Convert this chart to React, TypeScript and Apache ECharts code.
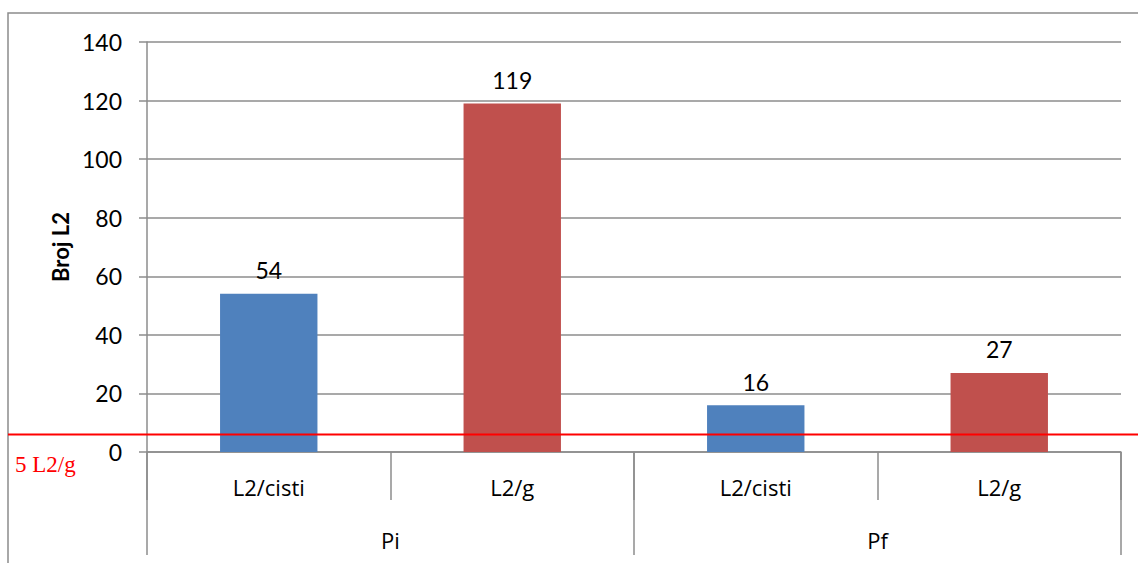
import React, { useEffect, useRef } from "react";
import * as echarts from "echarts";

const categories = ["L2/cisti", "L2/g", "L2/cisti", "L2/g"];
const groups = ["Pi", "Pf"];
const values = [54, 119, 16, 27];
const barColors = ["#4F81BD", "#C0504D", "#4F81BD", "#C0504D"];
const thresholdValue = 6;
const thresholdLabel = "5 L2/g";
const yTicks = { min: 0, max: 140, interval: 20 };
const yName = "Broj L2";

const FONT = "Lato, 'Open Sans', sans-serif";
const CAT_FONT = "'Open Sans', Lato, sans-serif";
const GRAY = "#8C8C8C";

export default function App() {
  const ref = useRef<HTMLDivElement>(null);
  useEffect(() => {
    if (!ref.current) return;
    const chart = echarts.init(ref.current, undefined, { renderer: "svg" });
    chart.setOption({
      animation: false,
      backgroundColor: "#fff",
      grid: { left: 147, right: 17, top: 42, bottom: 111 },
      xAxis: [
        {
          type: "category",
          data: categories,
          position: "bottom",
          axisLine: { lineStyle: { color: GRAY, width: 1.5 } },
          axisTick: { show: true, interval: 0, length: 48, lineStyle: { color: GRAY, width: 1.5 } },
          axisLabel: { interval: 0, margin: 24, color: "#000", fontSize: 22, fontFamily: CAT_FONT },
        },
        {
          type: "category",
          data: groups,
          position: "bottom",
          offset: 0,
          axisLine: { show: false },
          axisTick: { show: true, interval: 0, length: 103, lineStyle: { color: GRAY, width: 1.5 } },
          axisLabel: { interval: 0, margin: 77, color: "#000", fontSize: 22, fontFamily: CAT_FONT },
        },
      ],
      yAxis: {
        type: "value",
        min: yTicks.min,
        max: yTicks.max,
        interval: yTicks.interval,
        name: yName,
        nameLocation: "middle",
        nameGap: 76,
        nameRotate: 90,
        nameTextStyle: { color: "#000", fontSize: 22, fontWeight: "bold", fontFamily: FONT },
        axisLine: { show: true, lineStyle: { color: GRAY, width: 1.5 } },
        axisTick: { show: true, length: 8, lineStyle: { color: GRAY, width: 1.5 } },
        axisLabel: { color: "#000", fontSize: 23, fontFamily: FONT, margin: 25 },
        splitLine: { lineStyle: { color: GRAY, width: 1.5 } },
      },
      series: [
        {
          type: "bar",
          xAxisIndex: 0,
          barWidth: "40%",
          data: values.map((v, i) => ({ value: v, itemStyle: { color: barColors[i] } })),
          label: {
            show: true,
            position: "top",
            distance: 12,
            color: "#000",
            fontSize: 23,
            fontFamily: FONT,
          },
        },
      ],
    });
    const y = chart.convertToPixel({ yAxisIndex: 0 }, thresholdValue) as number;
    chart.setOption({
      graphic: [
        {
          type: "rect",
          shape: { x: 8, y: 13, width: 1140, height: 560 },
          style: { fill: "none", stroke: GRAY, lineWidth: 1.5 },
          z: 100,
        },
        {
          type: "line",
          shape: { x1: 8, y1: y, x2: 1138, y2: y },
          style: { stroke: "#FF0000", lineWidth: 2 },
          z: 100,
        },
        {
          type: "text",
          x: 15,
          y: y + 30,
          style: {
            text: thresholdLabel,
            fill: "#FF0000",
            font: "23px 'Liberation Serif', 'DejaVu Serif', serif",
            textVerticalAlign: "middle",
          },
          z: 100,
        },
      ],
    });
    return () => chart.dispose();
  }, []);
  return (
    <div
      ref={ref}
      style={{ position: "fixed", left: 0, top: 0, width: 1138, height: 563 }}
    />
  );
}
